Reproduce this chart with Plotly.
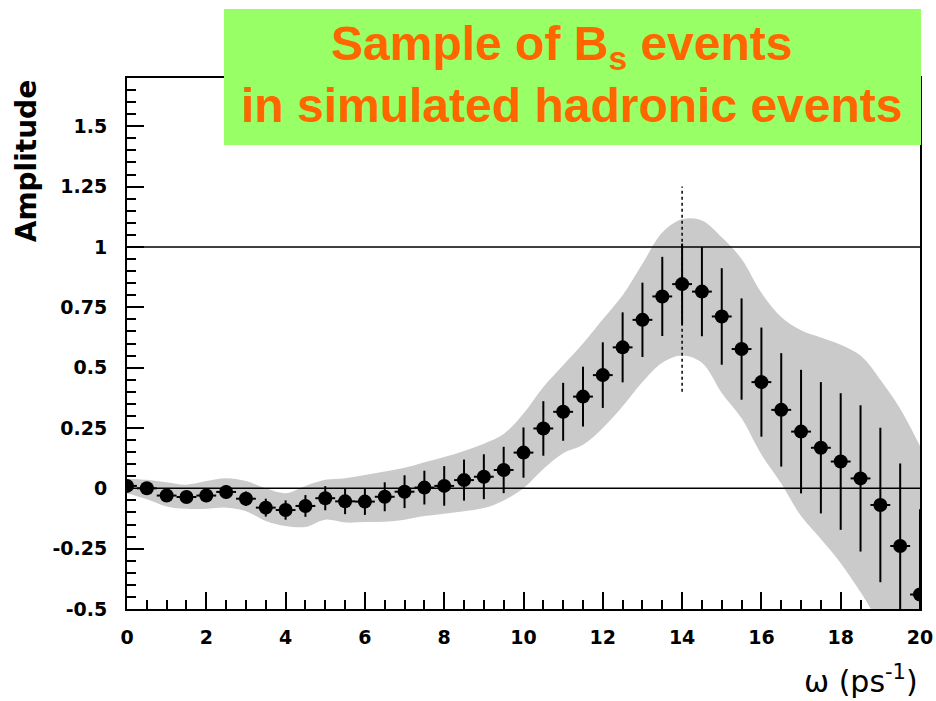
import plotly.graph_objects as go

# ---- data ----
omega = [0, 0.5, 1, 1.5, 2, 2.5, 3, 3.5, 4, 4.5, 5, 5.5, 6, 6.5, 7, 7.5, 8, 8.5, 9, 9.5,
         10, 10.5, 11, 11.5, 12, 12.5, 13, 13.5, 14, 14.5, 15, 15.5, 16, 16.5, 17, 17.5,
         18, 18.5, 19, 19.5, 20]
amplitude = [0.01, 0.0, -0.03, -0.036, -0.03, -0.015, -0.043, -0.08, -0.09, -0.073,
             -0.041, -0.054, -0.055, -0.035, -0.014, 0.003, 0.01, 0.034, 0.048, 0.076,
             0.148, 0.248, 0.317, 0.38, 0.469, 0.584, 0.698, 0.795, 0.846, 0.815,
             0.712, 0.577, 0.44, 0.325, 0.235, 0.168, 0.111, 0.041, -0.069, -0.239, -0.44]
amp_err = [0.02, 0.02, 0.025, 0.025, 0.027, 0.028, 0.03, 0.037, 0.04, 0.045,
           0.05, 0.053, 0.055, 0.06, 0.068, 0.07, 0.082, 0.085, 0.093, 0.096,
           0.104, 0.113, 0.12, 0.124, 0.136, 0.145, 0.154, 0.164, 0.168, 0.185,
           0.2, 0.21, 0.226, 0.235, 0.256, 0.272, 0.283, 0.303, 0.32, 0.342, 0.353]

band_upper = [0.04, 0.035, 0.025, 0.015, 0.03, 0.042, 0.03, 0.0, -0.02, 0.01,
              0.035, 0.042, 0.055, 0.07, 0.085, 0.108, 0.13, 0.155, 0.185, 0.225,
              0.31, 0.42, 0.51, 0.6, 0.7, 0.8, 0.93, 1.06, 1.115, 1.11,
              1.04, 0.95, 0.81, 0.71, 0.655, 0.625, 0.595, 0.55, 0.45, 0.33, 0.175]
band_lower = [-0.02, -0.045, -0.075, -0.085, -0.085, -0.08, -0.095, -0.135, -0.156, -0.16,
              -0.13, -0.142, -0.14, -0.138, -0.13, -0.115, -0.105, -0.095, -0.082, -0.05,
              0.0, 0.08, 0.145, 0.18, 0.25, 0.34, 0.44, 0.52, 0.55, 0.52,
              0.395, 0.29, 0.14, 0.02, -0.115, -0.21, -0.31, -0.43, -0.56, -0.65, -0.7]

x_tickvals = [0, 2, 4, 6, 8, 10, 12, 14, 16, 18, 20]
x_ticktext = ["0", "2", "4", "6", "8", "10", "12", "14", "16", "18", "20"]
y_tickvals = [-0.5, -0.25, 0, 0.25, 0.5, 0.75, 1, 1.25, 1.5]
y_ticktext = ["-0.5", "-0.25", "0", "0.25", "0.5", "0.75", "1", "1.25", "1.5"]

peak_omega = 14
peak_line = [0.40, 1.25]
ref_levels = [0, 1]

# ---- figure ----
fig = go.Figure()

fig.add_trace(go.Scatter(x=omega, y=band_lower, mode="lines", line=dict(width=0, shape="spline"),
                         hoverinfo="skip", showlegend=False))
fig.add_trace(go.Scatter(x=omega, y=band_upper, mode="lines", line=dict(width=0, shape="spline"),
                         fill="tonexty", fillcolor="#cacaca", hoverinfo="skip", showlegend=False))

fig.add_trace(go.Scatter(
    x=omega, y=amplitude, mode="markers",
    marker=dict(symbol="circle", size=14, color="black"),
    error_y=dict(type="data", array=amp_err, visible=True, color="black", thickness=2, width=0),
    error_x=dict(type="constant", value=0.25, visible=True, color="black", thickness=2, width=0),
    showlegend=False, cliponaxis=True))

for lvl in ref_levels:
    fig.add_shape(type="line", xref="x", yref="y", x0=0, x1=20, y0=lvl, y1=lvl,
                  line=dict(color="black", width=1.5), layer="above")

fig.add_shape(type="line", xref="x", yref="y", x0=peak_omega, x1=peak_omega,
              y0=peak_line[0], y1=peak_line[1],
              line=dict(color="black", width=1.5, dash="dot"), layer="above")

tick_font = dict(family="DejaVu Sans", size=19, color="black", weight="bold")

fig.update_xaxes(
    range=[0, 20], showgrid=False, zeroline=False, automargin=False,
    showline=True, linecolor="black", linewidth=2, mirror=True,
    tickmode="array", tickvals=x_tickvals, ticktext=x_ticktext,
    ticks="inside", ticklen=17, tickwidth=2, tickcolor="black",
    minor=dict(ticks="inside", ticklen=9, tickwidth=2, tickcolor="black", dtick=0.5, tick0=0, showgrid=False),
    tickfont=tick_font, ticklabelstandoff=10, layer="below traces")

fig.update_yaxes(
    range=[-0.5, 1.70], showgrid=False, zeroline=False, automargin=False,
    showline=True, linecolor="black", linewidth=2, mirror=True,
    tickmode="array", tickvals=y_tickvals, ticktext=y_ticktext,
    ticks="inside", ticklen=17, tickwidth=2, tickcolor="black",
    minor=dict(ticks="inside", ticklen=9, tickwidth=2, tickcolor="black", dtick=0.05, tick0=0, showgrid=False),
    tickfont=tick_font, ticklabelstandoff=14, layer="below traces")

# title box
fig.add_shape(type="rect", xref="paper", yref="paper", x0=0.1223, x1=1.0013, y0=0.8738, y1=1.13,
              fillcolor="#99ff66", line=dict(width=0), layer="above")
title_font = dict(family="Liberation Sans", size=48, color="#ff6600", weight="bold")
fig.add_annotation(xref="paper", yref="paper", x=0.5486, y=1.058, text="Sample of B<sub>s</sub> events",
                   showarrow=False, font=title_font, xanchor="center", yanchor="middle")
fig.add_annotation(xref="paper", yref="paper", x=0.561, y=0.949, text="in simulated hadronic events",
                   showarrow=False, font=title_font, xanchor="center", yanchor="middle")

# axis titles
fig.add_annotation(xref="paper", yref="paper", x=-0.127, y=1.0, text="Amplitude", textangle=-90,
                   showarrow=False, font=dict(family="DejaVu Sans", size=28, color="black", weight="bold"),
                   xanchor="center", yanchor="top")
fig.add_annotation(xref="paper", yref="paper", x=1.0, y=-0.1337, text="ω (ps<sup>-1</sup>)",
                   showarrow=False, font=dict(family="DejaVu Sans", size=30, color="black"),
                   xanchor="right", yanchor="middle")

fig.update_layout(
    width=936, height=701,
    margin=dict(l=127, r=16, t=78, b=92, autoexpand=False),
    paper_bgcolor="white", plot_bgcolor="white",
    showlegend=False,
)

fig.write_html(
    "out.html",
    config={"displayModeBar": False},
    post_script="document.body.style.margin='0';document.body.style.overflow='hidden';",
)
